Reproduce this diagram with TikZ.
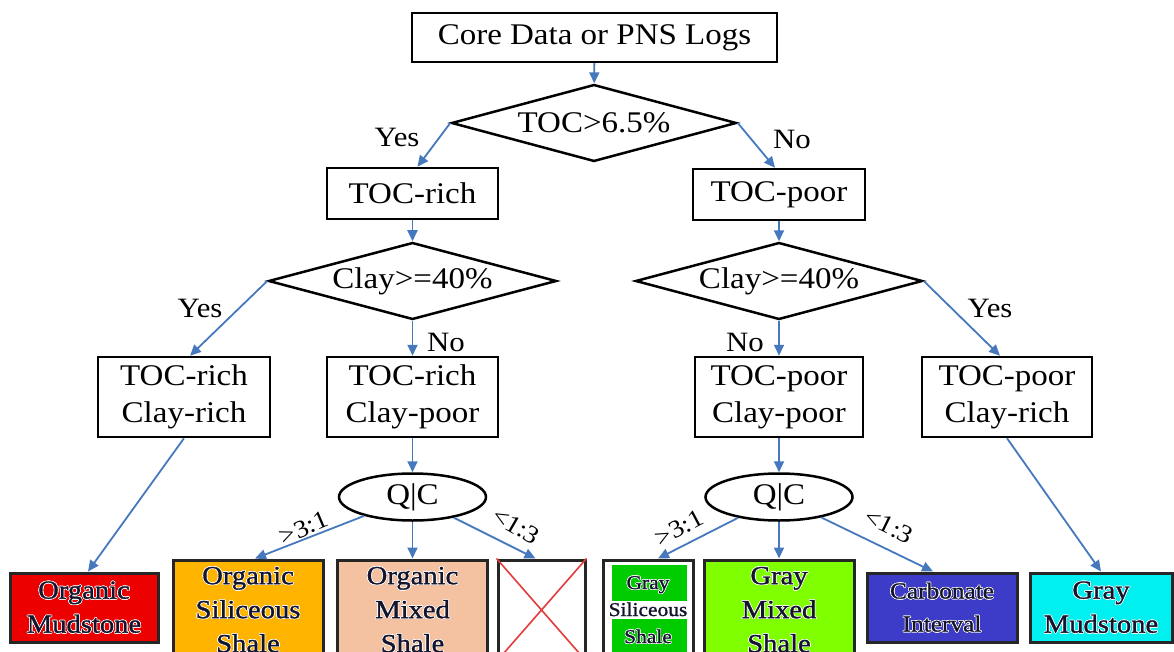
\documentclass[tikz,border=0pt]{standalone}
\usepackage{fontspec}
\setmainfont{Liberation Serif}[FakeStretch=1.1]
\usepackage{contour}
\contourlength{0.7pt}
\contournumber{10}
\usetikzlibrary{shapes.geometric,arrows.meta}
\definecolor{arrc}{RGB}{70,120,190}
\definecolor{leaftext}{RGB}{20,20,45}
\definecolor{cred}{RGB}{236,0,0}
\definecolor{corange}{RGB}{255,180,0}
\definecolor{cpeach}{RGB}{244,194,160}
\definecolor{cgreen}{RGB}{0,204,0}
\definecolor{clime}{RGB}{128,255,0}
\definecolor{cblue}{RGB}{60,60,200}
\definecolor{ccyan}{RGB}{0,240,240}
\definecolor{xred}{RGB}{228,60,60}
\newcommand{\hl}[1]{\contour{white}{#1}}
\begin{document}
\begin{tikzpicture}[x=1pt,y=-1pt,
  box/.style={draw=black, line width=2.5pt, fill=white, inner sep=0pt, align=center, font=\fontsize{30}{37}\selectfont},
  dia/.style={diamond, draw=black, line width=2.5pt, fill=white, aspect=3.7, inner sep=0pt, font=\fontsize{30}{36}\selectfont},
  ell/.style={ellipse, draw=black, line width=2.5pt, fill=white, inner sep=0pt, minimum width=147, minimum height=47, font=\fontsize{30}{36}\selectfont},
  arr/.style={draw=arrc, line width=1.8pt, -{Triangle[length=11pt,width=10pt]}},
  lab/.style={font=\fontsize{28}{30}\selectfont, inner sep=0pt},
  rlab/.style={font=\fontsize{25}{28}\selectfont, inner sep=0pt},
  leaf/.style={draw=black!85, line width=3pt, inner sep=0pt, align=center, text=leaftext, font=\fontsize{26}{34}\selectfont\addfontfeature{FakeBold=1.2}},
]
\useasboundingbox (0,0) rectangle (1174,652);

% top levels
\node[box, minimum width=365, minimum height=49] (top) at (594.5,37.5) {Core Data or PNS Logs};
\node[dia, minimum width=285, minimum height=77] (d1) at (594,123) {TOC>6.5\%};
\node[box, minimum width=171, minimum height=51] (tr) at (412.5,193.5) {TOC-rich};
\node[box, minimum width=172, minimum height=51] (tp) at (779,194.5) {TOC-poor};
\node[dia, minimum width=288, minimum height=77] (d2) at (412.5,281) {Clay>=40\%};
\node[dia, minimum width=287, minimum height=77] (d3) at (779,281) {Clay>=40\%};
\node[box, minimum width=172, minimum height=80] (trcr) at (184,397) {TOC-rich\\Clay-rich};
\node[box, minimum width=171, minimum height=80] (trcp) at (412.5,397) {TOC-rich\\Clay-poor};
\node[box, minimum width=168, minimum height=80] (tpcp) at (779,397) {TOC-poor\\Clay-poor};
\node[box, minimum width=170, minimum height=80] (tpcr) at (1007,397) {TOC-poor\\Clay-rich};
\node[ell] (q1) at (412.5,497) {Q|C};
\node[ell] (q2) at (779,497) {Q|C};

% leaves
\node[leaf, fill=cred, minimum width=148, minimum height=69] (b1) at (84,607.5) {\hl{Organic}\\\hl{Mudstone}};
\node[leaf, fill=corange, minimum width=150, minimum height=100] (b2) at (248,610) {\hl{Organic}\\\hl{Siliceous}\\\hl{Shale}};
\node[leaf, fill=cpeach, minimum width=150, minimum height=100] (b3) at (412.5,610) {\hl{Organic}\\\hl{Mixed}\\\hl{Shale}};
\node[leaf, fill=white, minimum width=87, minimum height=100] (b4) at (541.5,610) {};
\draw[xred, line width=1.6pt] (b4.north west) -- (b4.south east) (b4.north east) -- (b4.south west);
\node[leaf, fill=white, minimum width=90, minimum height=100] (b5) at (648,610) {};
\fill[cgreen] (612,565) rectangle (687,601);
\fill[cgreen] (612,619) rectangle (687,655);
\node[leaf, draw=none, font=\fontsize{19.5}{27}\selectfont\addfontfeature{FakeBold=1.2}] (b5t) at (b5) {\hl{Gray}\\\hl{Siliceous}\\\hl{Shale}};
\node[leaf, fill=clime, minimum width=150, minimum height=100] (b6) at (779,610) {\hl{Gray}\\\hl{Mixed}\\\hl{Shale}};
\node[leaf, fill=cblue, minimum width=150, minimum height=69, font=\fontsize{23}{33}\selectfont\addfontfeature{FakeBold=1.2}] (b7) at (942,607.5) {\hl{Carbonate}\\\hl{Interval}};
\node[leaf, fill=ccyan, minimum width=142, minimum height=69] (b8) at (1101,607.5) {\hl{Gray}\\\hl{Mudstone}};

% connectors
\draw[arr] (top) -- (d1);
\draw[arr] (d1.west) -- ([xshift=5]tr.north);
\draw[arr] (d1.east) -- ([xshift=-4]tp.north);
\draw[arr] (tr) -- (d2);
\draw[arr] (tp) -- (d3);
\draw[arr] (d2.west) -- ([xshift=6]trcr.north);
\draw[arr] (d2.south) -- (trcp.north);
\draw[arr] (d3.south) -- (tpcp.north);
\draw[arr] (d3.east) -- ([xshift=-7]tpcr.north);
\draw[arr] (trcp) -- (q1);
\draw[arr] (tpcp) -- (q2);
\draw[arr] (trcr.south) -- ([xshift=4]b1.north);
\draw[arr] (tpcr.south) -- (b8.north);
\draw[arr] (q1) -- ([xshift=7]b2.north);
\draw[arr] (q1) -- (b3.north);
\draw[arr] (q1) -- ([xshift=-6]b4.north);
\draw[arr] (q2) -- ([xshift=10]b5.north);
\draw[arr] (q2) -- (b6.north);
\draw[arr] (q2) -- ([xshift=-9]b7.north);

% labels
\node[lab] (y1) at (397,137) {Yes};
\node[lab] (n1) at (792,139) {No};
\node[lab] (y2) at (200,308) {Yes};
\node[lab] (n2) at (446,342) {No};
\node[lab] (n3) at (745,342) {No};
\node[lab] (y3) at (990,308) {Yes};
\node[rlab, rotate=23] (g1) at (304,528) {>3:1};
\node[rlab, rotate=-30] (l1) at (516,526) {<1:3};
\node[rlab, rotate=28] (g2) at (679,528) {>3:1};
\node[rlab, rotate=-26] (l2) at (889,526) {<1:3};
\end{tikzpicture}
\end{document}
